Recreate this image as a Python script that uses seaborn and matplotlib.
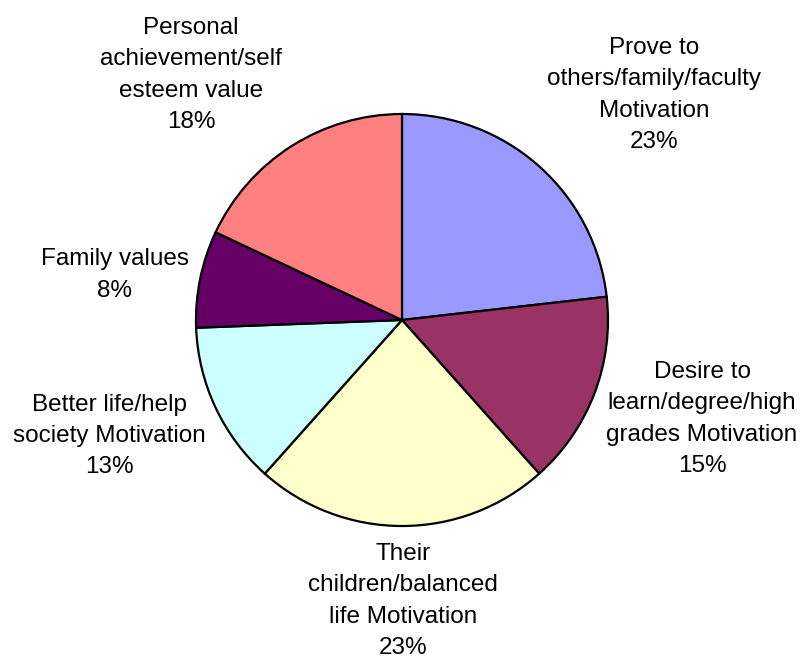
import matplotlib
matplotlib.use("Agg")
import matplotlib.pyplot as plt
import seaborn as sns

# Motivation shares (percent), clockwise from 12 o'clock
categories = [
    "Prove to\nothers/family/faculty\nMotivation",
    "Desire to\nlearn/degree/high\ngrades Motivation",
    "Their\nchildren/balanced\nlife Motivation",
    "Better life/help\nsociety Motivation",
    "Family values",
    "Personal\nachievement/self\nesteem value",
]
shares = [23.2, 15.2, 23.2, 12.8, 7.6, 18.0]
colors = ["#9999FF", "#993366", "#FFFFCC", "#CCFFFF", "#660066", "#FF8080"]

# label centres in pixels (x from left, y from top)
label_xy = [(654, 95), (702, 419), (403, 601), (109, 436), (115, 275), (191, 75)]

sns.set_theme(style="white")
plt.rcParams["font.family"] = ["Liberation Sans", "DejaVu Sans"]

W, H = 802, 659
fig = plt.figure(figsize=(W / 100, H / 100), dpi=100)
ax = fig.add_axes([0, 0, 1, 1])

wedges, _ = ax.pie(
    shares,
    colors=colors,
    startangle=90,
    counterclock=False,
    radius=206,
    center=(402, H - 320),
    wedgeprops=dict(edgecolor="black", linewidth=1.6),
    frame=True,
)

ax.set_xlim(0, W)
ax.set_ylim(0, H)
ax.set_aspect("equal")
ax.axis("off")

for name, val, (x, y) in zip(categories, shares, label_xy):
    ax.text(x, H - y, f"{name}\n{val:.0f}%", ha="center", va="center",
            fontsize=17.5, color="black", linespacing=1.53)

fig.savefig("out.png", dpi=100)
